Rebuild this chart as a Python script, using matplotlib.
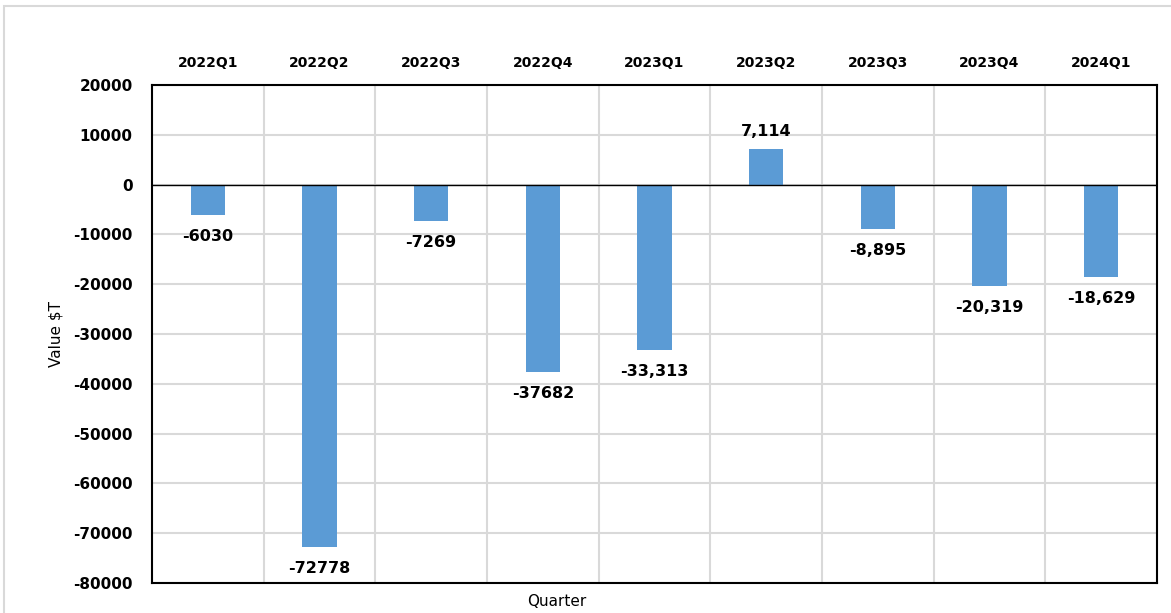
import matplotlib
matplotlib.use("Agg")
import matplotlib.pyplot as plt
from matplotlib.patches import Rectangle

quarters = ["2022Q1", "2022Q2", "2022Q3", "2022Q4", "2023Q1", "2023Q2", "2023Q3", "2023Q4", "2024Q1"]
values = [-6030, -72778, -7269, -37682, -33313, 7114, -8895, -20319, -18629]
labels = ["-6030", "-72778", "-7269", "-37682", "-33,313", "7,114", "-8,895", "-20,319", "-18,629"]
yticks = [20000, 10000, 0, -10000, -20000, -30000, -40000, -50000, -60000, -70000, -80000]

plt.rcParams['font.family'] = ['DejaVu Sans']
W, H = 1171, 613
fig = plt.figure(figsize=(W / 100, H / 100), dpi=100)
fig.patch.set_facecolor("white")

# outer chart border (partially cropped in reference)
fig.patches.append(Rectangle((4 / W, -0.05), 1.2, (H - 6) / H + 0.05, transform=fig.transFigure,
                             fill=False, edgecolor="#d9d9d9", linewidth=1.5))

left, right, top, bottom = 152, 1157, 85, 583
ax = fig.add_axes([left / W, 1 - bottom / H, (right - left) / W, (bottom - top) / H])

x = list(range(len(quarters)))
ax.bar(x, values, width=0.31, color="#5b9bd5", zorder=3)
ax.set_xlim(-0.5, len(quarters) - 0.5)
ax.set_ylim(-80000, 20000)

# gridlines
for b in range(1, len(quarters)):
    ax.axvline(b - 0.5, color="#d9d9d9", linewidth=1.5, zorder=1)
ax.set_yticks(yticks)
ax.set_yticklabels([str(t) for t in yticks], fontsize=11, fontweight="bold")
ax.yaxis.grid(True, color="#d9d9d9", linewidth=1.5, zorder=1)
ax.set_axisbelow(True)
ax.axhline(0, color="black", linewidth=1.0, zorder=4)

ax.xaxis.tick_top()
ax.set_xticks(x)
ax.set_xticklabels(quarters, fontsize=10, fontweight="bold")
ax.tick_params(axis="both", length=0)
ax.tick_params(axis="x", pad=11)
ax.tick_params(axis="y", pad=14)

for s in ax.spines.values():
    s.set_color("black")
    s.set_linewidth(1.5)

for xi, v, lab in zip(x, values, labels):
    if v < 0:
        ax.annotate(lab, (xi, v), xytext=(0, -10), textcoords="offset points",
                    ha="center", va="top", fontsize=11.5, fontweight="bold", zorder=5)
    else:
        ax.annotate(lab, (xi, v), xytext=(0, 7), textcoords="offset points",
                    ha="center", va="bottom", fontsize=11.5, fontweight="bold", zorder=5)

ax.set_ylabel("Value $T", fontsize=11, labelpad=7)
fig.text(557 / W, 1 - 601 / H, "Quarter", ha="center", va="center", fontsize=11)

fig.savefig("out.png", dpi=100)
